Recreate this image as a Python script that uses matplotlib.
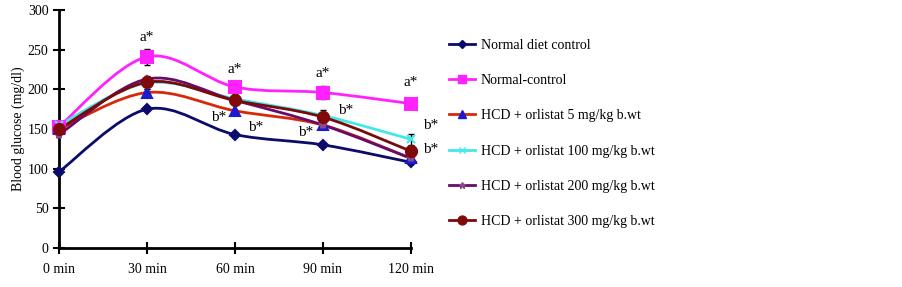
import matplotlib
matplotlib.use("Agg")
import matplotlib.pyplot as plt
from matplotlib.path import Path
from matplotlib.patches import PathPatch
import numpy as np

plt.rcParams["font.family"] = ["Liberation Serif", "DejaVu Serif"]

# === Data ===
times = ["0 min", "30 min", "60 min", "90 min", "120 min"]
normal_diet = [96, 175, 143, 130, 108]
normal_ctrl = [153, 241, 203, 196, 182]
orl_5 = [150, 196, 173, 155, 113]
orl_100 = [155, 208, 188, 167, 137]
orl_200 = [143, 213, 186, 155, 113]
orl_300 = [150, 209, 186, 165, 122]

err_normal_ctrl = [5, 10, 8, 8, 7]
err_small = [5, 8, 6, 7, 7]

labels = ["Normal diet control", "Normal-control", "HCD + orlistat 5 mg/kg b.wt",
          "HCD + orlistat 100 mg/kg b.wt", "HCD + orlistat 200 mg/kg b.wt",
          "HCD + orlistat 300 mg/kg b.wt"]
series = [normal_diet, normal_ctrl, orl_5, orl_100, orl_200, orl_300]
errs = [None, err_normal_ctrl, None, err_small, None, err_small]
line_colors = ["#0b0b6b", "#ff22ff", "#d42a0a", "#44e8e8", "#6a0a6a", "#7a0a0a"]
marker_colors = ["#0b0b6b", "#ff22ff", "#1a1ad0", "#44e8e8", "#8a4a8a", "#800a0a"]
markers = ["D", "s", "^", "x", "*", "o"]
msizes = [5, 8, 7, 6, 6, 8]

# significance labels (text, x, y)
notes_a = [("a*", 1.0, 266), ("a*", 2.0, 225), ("a*", 3.0, 220), ("a*", 4.0, 209)]
notes_b = [("b*", 1.82, 165), ("b*", 2.24, 152), ("b*", 2.8, 146),
           ("b*", 3.26, 173), ("b*", 4.22, 155), ("b*", 4.22, 124)]


def smooth_path(xs, ys, k=1/6):
    # Catmull-Rom style bezier through the points (Excel "smoothed line")
    pts = np.column_stack([xs, ys]).astype(float)
    verts = [pts[0]]
    codes = [Path.MOVETO]
    n = len(pts)
    for i in range(n - 1):
        p0 = pts[i - 1] if i > 0 else pts[i]
        p1, p2 = pts[i], pts[i + 1]
        p3 = pts[i + 2] if i + 2 < n else pts[i + 1]
        c1 = p1 + (p2 - p0) * k
        c2 = p2 - (p3 - p1) * k
        verts += [c1, c2, p2]
        codes += [Path.CURVE4] * 3
    return Path(verts, codes)


fig = plt.figure(figsize=(9.03, 2.87), dpi=100)
ax = fig.add_axes([0.0653, 0.136, 0.3898, 0.829])
x = np.arange(len(times))

handles = []
for vals, err, lc, mc, m, ms, lab in zip(series, errs, line_colors, marker_colors,
                                         markers, msizes, labels):
    ax.add_patch(PathPatch(smooth_path(x, vals), fill=False, edgecolor=lc,
                           lw=2, zorder=2, clip_on=False))
    if err is not None:
        ax.errorbar(x, vals, yerr=err, fmt="none", ecolor="black", elinewidth=1,
                    capsize=2.5, capthick=1, zorder=3, clip_on=False)
    ax.plot(x, vals, ls="none", marker=m, ms=ms, color=mc, mec=mc, mew=1.5,
            zorder=4, clip_on=False)
    h, = ax.plot([], [], color=lc, lw=2, marker=m, ms=ms * 0.8, mfc=mc, mec=mc)
    handles.append(h)

for t, xx, yy in notes_a + notes_b:
    ax.text(xx, yy, t, fontsize=11, ha="center", va="center")

ax.set_xlim(0, 4)
ax.set_ylim(0, 300)
ax.set_xticks(x)
ax.set_xticklabels(times)
ax.set_yticks(range(0, 301, 50))
ax.set_ylabel("Blood glucose (mg/dl)", fontsize=10, labelpad=2)
for s in ["top", "right"]:
    ax.spines[s].set_visible(False)
for s in ["left", "bottom"]:
    ax.spines[s].set_linewidth(2)
ax.tick_params(direction="inout", length=8, width=1.5, labelsize=10)
ax.tick_params(axis="x", pad=7)

fig.legend(handles, labels, loc="upper left", bbox_to_anchor=(0.483, 0.908),
           frameon=False, fontsize=10, handlelength=1.9, labelspacing=1.6,
           handletextpad=0.4)

fig.savefig("out.png", dpi=100)
